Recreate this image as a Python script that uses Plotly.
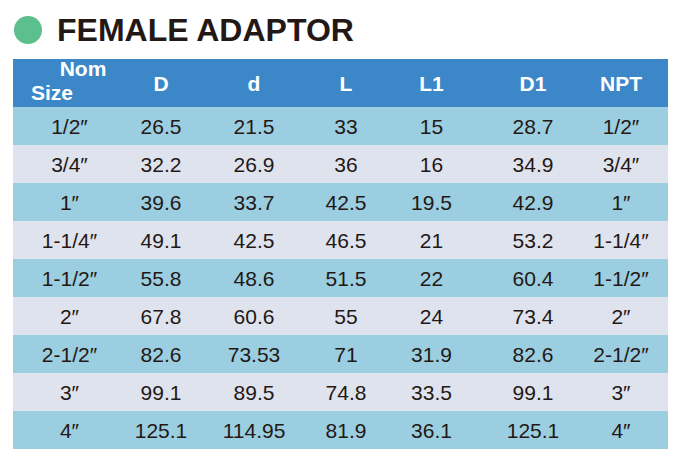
import plotly.graph_objects as go

title = "FEMALE ADAPTOR"
headers = ["", "D", "d", "L", "L1", "D1", "NPT"]
nom_size = ["1/2\u2033", "3/4\u2033", "1\u2033", "1-1/4\u2033", "1-1/2\u2033", "2\u2033", "2-1/2\u2033", "3\u2033", "4\u2033"]
D = ["26.5", "32.2", "39.6", "49.1", "55.8", "67.8", "82.6", "99.1", "125.1"]
d = ["21.5", "26.9", "33.7", "42.5", "48.6", "60.6", "73.53", "89.5", "114.95"]
L = ["33", "36", "42.5", "46.5", "51.5", "55", "71", "74.8", "81.9"]
L1 = ["15", "16", "19.5", "21", "22", "24", "31.9", "33.5", "36.1"]
D1 = ["28.7", "34.9", "42.9", "53.2", "60.4", "73.4", "82.6", "99.1", "125.1"]
NPT = ["1/2\u2033", "3/4\u2033", "1\u2033", "1-1/4\u2033", "1-1/2\u2033", "2\u2033", "2-1/2\u2033", "3\u2033", "4\u2033"]

# ---- layout constants (pixel space of the 691x470 page) ----
PAGE_W, PAGE_H = 691, 470
BODY = 8                       # default browser body margin
LEFT, RIGHT = 13, 668
TOP = 59
HEADER_H = 48
ROW_H = 38
COL_X = [69.5, 161, 254, 346, 431.5, 533, 621]
TEXT_DY = 2.5
HEADER_BG = "#3C87C8"
ROW_A = "#9BCEE0"
ROW_B = "#DFE3EE"
TEXT = "#231815"
FONT = "Liberation Sans, Arial, sans-serif"

columns = [nom_size, D, d, L, L1, D1, NPT]
n = len(nom_size)

y_edges = [TOP, TOP + HEADER_H] + [TOP + HEADER_H + ROW_H * (i + 1) for i in range(n)]
z = [[0]] + [[1 if i % 2 == 0 else 2] for i in range(n)]

fig = go.Figure()
fig.add_trace(go.Heatmap(
    x=[LEFT, RIGHT], y=y_edges, z=z, zmin=0, zmax=2,
    colorscale=[[0, HEADER_BG], [0.33, HEADER_BG], [0.33, ROW_A], [0.66, ROW_A],
                [0.66, ROW_B], [1, ROW_B]],
    showscale=False, hoverinfo="skip",
))

row_y = [(y_edges[i + 1] + y_edges[i + 2]) / 2 + TEXT_DY for i in range(n)]
for cx, col in zip(COL_X, columns):
    fig.add_trace(go.Scatter(
        x=[cx] * n, y=row_y, mode="text", text=col, textposition="middle center",
        textfont=dict(family=FONT, size=21, color=TEXT), hoverinfo="skip", showlegend=False,
    ))

head_y = TOP + HEADER_H / 2 + 3
fig.add_trace(go.Scatter(
    x=COL_X[1:], y=[head_y] * (len(headers) - 1), mode="text",
    text=["<b>%s</b>" % h for h in headers[1:]], textposition="middle center",
    textfont=dict(family=FONT, size=21, color="white"), hoverinfo="skip", showlegend=False,
))
fig.add_trace(go.Scatter(
    x=[83, 52], y=[70.5, 94.5], mode="text", text=["<b>Nom</b>", "<b>Size</b>"],
    textposition="middle center",
    textfont=dict(family=FONT, size=21, color="white"), hoverinfo="skip", showlegend=False,
))

fig.add_shape(type="circle", xref="x", yref="y", x0=14, x1=42, y0=16, y1=44,
              fillcolor="#5BBF8E", line=dict(width=0), layer="above")
fig.add_annotation(text="<b>%s</b>" % title, xref="x", yref="y",
                   x=55, y=30, xanchor="left", yanchor="middle", showarrow=False,
                   font=dict(family=FONT, size=32, color=TEXT))

fig.update_xaxes(range=[BODY, PAGE_W - BODY], visible=False, fixedrange=True)
fig.update_yaxes(range=[PAGE_H - BODY, BODY], visible=False, fixedrange=True)
fig.update_layout(width=PAGE_W - 2 * BODY, height=PAGE_H - 2 * BODY,
                  margin=dict(l=0, r=0, t=0, b=0), showlegend=False,
                  paper_bgcolor="white", plot_bgcolor="white")
fig.write_html("out.html")
